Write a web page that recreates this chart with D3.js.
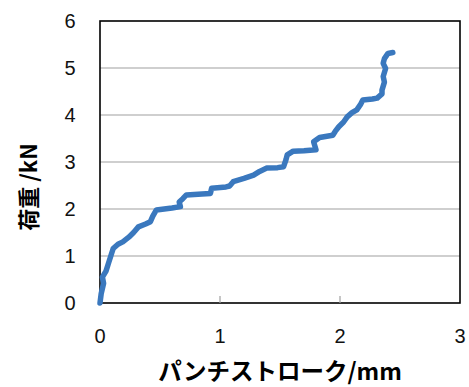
<!DOCTYPE html>
<html>
<head>
<meta charset="utf-8">
<script src="https://cdn.jsdelivr.net/npm/d3@7"></script>
<style>
  body { margin: 0; background: #fff; }
  svg text { font-family: "Liberation Sans", "Noto Sans CJK JP", sans-serif; }
</style>
</head>
<body>
<div id="chart"></div>
<script>
// パンチストローク (mm) vs 荷重 (kN)
const stroke = [0.00, 0.01, 0.03, 0.02, 0.05, 0.07, 0.09, 0.11, 0.15, 0.19, 0.24, 0.28, 0.32, 0.38, 0.42, 0.44, 0.47,
  0.60, 0.67, 0.66, 0.69, 0.72, 0.85, 0.92, 0.93, 1.05, 1.08, 1.11, 1.20, 1.28, 1.33, 1.39, 1.48, 1.53, 1.55,
  1.56, 1.61, 1.70, 1.80, 1.78, 1.83, 1.94, 1.96, 1.99, 2.03, 2.06, 2.10, 2.14, 2.17, 2.19, 2.27, 2.31, 2.35,
  2.35, 2.37, 2.36, 2.38, 2.36, 2.37, 2.40, 2.44];
const load = [0.00, 0.20, 0.42, 0.55, 0.68, 0.84, 1.00, 1.16, 1.25, 1.30, 1.40, 1.50, 1.62, 1.68, 1.73, 1.85, 1.98,
  2.02, 2.05, 2.15, 2.22, 2.30, 2.32, 2.33, 2.44, 2.47, 2.49, 2.58, 2.65, 2.72, 2.80, 2.87, 2.88, 2.90, 3.05,
  3.15, 3.23, 3.24, 3.26, 3.43, 3.52, 3.57, 3.65, 3.75, 3.85, 3.96, 4.05, 4.11, 4.22, 4.32, 4.34, 4.36, 4.45,
  4.53, 4.70, 4.82, 4.99, 5.10, 5.20, 5.31, 5.33];
const xTicks = [0, 1, 2, 3];
const yTicks = [0, 1, 2, 3, 4, 5, 6];

const W = 469, H = 387;
const margin = { top: 21, right: 9, bottom: 84, left: 100 };
const width = W - margin.left - margin.right;
const height = H - margin.top - margin.bottom;

const svg = d3.select("#chart").append("svg")
  .attr("width", W).attr("height", H);
const g = svg.append("g").attr("transform", `translate(${margin.left},${margin.top})`);

const x = d3.scaleLinear().domain([0, 3]).range([0, width]);
const y = d3.scaleLinear().domain([0, 6]).range([height, 0]);

// gridlines
g.selectAll(".grid").data(yTicks.slice(1, -1)).enter().append("line")
  .attr("x1", 0).attr("x2", width)
  .attr("y1", d => y(d)).attr("y2", d => y(d))
  .attr("stroke", "#a0a0a0").attr("stroke-width", 1.2);

// frame
g.append("rect").attr("width", width).attr("height", height)
  .attr("fill", "none").attr("stroke", "#000").attr("stroke-width", 1.6);

// inner x ticks
g.selectAll(".xt").data(xTicks.slice(1, -1)).enter().append("line")
  .attr("x1", d => x(d)).attr("x2", d => x(d))
  .attr("y1", height).attr("y2", height - 7)
  .attr("stroke", "#a0a0a0").attr("stroke-width", 1.2);

// tick labels
g.selectAll(".yl").data(yTicks).enter().append("text")
  .attr("x", -30).attr("y", d => y(d)).attr("dy", "0.36em")
  .attr("text-anchor", "middle").attr("font-size", 20).attr("fill", "#111")
  .text(d => d);
g.selectAll(".xl").data(xTicks).enter().append("text")
  .attr("x", d => x(d)).attr("y", height + 40)
  .attr("text-anchor", "middle").attr("font-size", 20).attr("fill", "#111")
  .text(d => d);

// curve
const pts = stroke.map((s, i) => [s, load[i]]);
g.append("path").datum(pts)
  .attr("fill", "none").attr("stroke", "#3a78be").attr("stroke-width", 5.5)
  .attr("stroke-linejoin", "round").attr("stroke-linecap", "round")
  .attr("d", d3.line().x(d => x(d[0])).y(d => y(d[1])));

// axis titles
svg.append("text")
  .attr("x", 280).attr("y", 380)
  .attr("text-anchor", "middle").attr("font-size", 23.5).attr("font-weight", "bold")
  .style("font-family", "'Noto Sans CJK JP', sans-serif")
  .text("パンチストローク/mm");
svg.append("text")
  .attr("transform", "translate(37,187) rotate(-90)")
  .attr("text-anchor", "middle").attr("font-size", 22).attr("font-weight", "bold")
  .style("font-family", "'Noto Sans CJK JP', sans-serif")
  .text("荷重 /kN");
</script>
</body>
</html>
